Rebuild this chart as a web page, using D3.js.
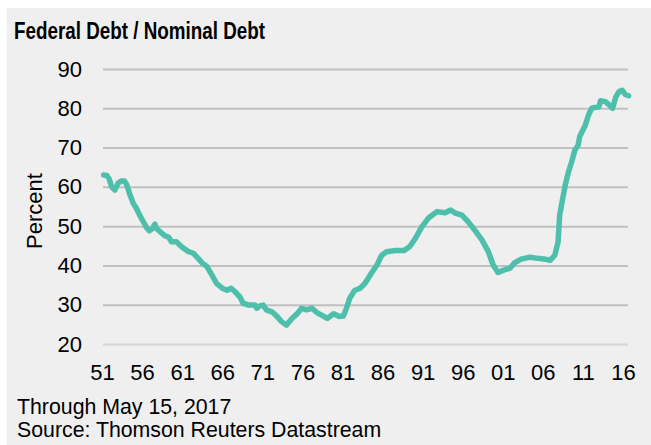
<!DOCTYPE html>
<html>
<head>
<meta charset="utf-8">
<script src="https://cdn.jsdelivr.net/npm/d3@7"></script>
<style>
  html, body { margin: 0; padding: 0; background: #ffffff; }
  svg { display: block; font-family: "Liberation Sans", Arial, sans-serif; }
</style>
</head>
<body>
<svg id="chart" width="651" height="445"></svg>
<script>
// ---- Data ----
const titleText = "Federal Debt / Nominal Debt";
const yAxisLabel = "Percent";
const footnotes = ["Through May 15, 2017", "Source: Thomson Reuters Datastream"];

const yTicks = [20, 30, 40, 50, 60, 70, 80, 90];
const xTicks = [1951, 1956, 1961, 1966, 1971, 1976, 1981, 1986, 1991, 1996, 2001, 2006, 2011, 2016];

const years = [
  1951.2, 1951.6, 1951.9, 1952.2, 1952.6, 1953.0, 1953.4, 1953.8, 1954.1, 1954.5,
  1954.9, 1955.3, 1955.7, 1956.1, 1956.5, 1956.9, 1957.3, 1957.6, 1957.8, 1958.4,
  1958.9, 1959.3, 1959.7, 1960.3, 1960.9, 1961.8, 1962.4, 1963.0, 1963.6, 1964.1,
  1964.7, 1965.3, 1966.0, 1966.6, 1967.1, 1967.6, 1968.2, 1968.6, 1969.3, 1970.1,
  1970.3, 1970.7, 1971.1, 1971.5, 1972.2, 1972.8, 1973.4, 1974.0, 1974.7, 1975.3,
  1975.9, 1976.5, 1977.2, 1977.8, 1978.5, 1979.1, 1979.9, 1980.6, 1981.1, 1981.5,
  1981.9, 1982.5, 1983.2, 1983.8, 1984.6, 1985.3, 1985.9, 1986.5, 1987.6, 1988.7,
  1989.4, 1990.1, 1990.9, 1991.7, 1992.8, 1993.8, 1994.5, 1995.0, 1995.9, 1996.7,
  1997.5, 1998.4, 1999.2, 1999.8, 2000.4, 2001.1, 2001.9, 2002.5, 2003.3, 2004.4,
  2005.4, 2006.3, 2006.9, 2007.5, 2007.9, 2008.1, 2008.4, 2008.8, 2009.2, 2009.6,
  2010.0, 2010.4, 2010.6, 2011.3, 2011.7, 2012.1, 2012.5, 2013.0, 2013.2, 2013.8,
  2014.2, 2014.7, 2015.1, 2015.5, 2015.9, 2016.3, 2016.7
];
const debtShare = [
  63.0, 62.9, 62.0, 60.0, 59.2, 60.9, 61.5, 61.5, 60.5, 57.9,
  55.8, 54.5, 52.8, 51.3, 49.8, 48.8, 49.4, 50.5, 49.4, 48.3,
  47.5, 47.2, 46.0, 46.0, 44.8, 43.5, 43.1, 41.8, 40.4, 39.7,
  37.6, 35.4, 34.2, 33.7, 34.2, 33.3, 32.0, 30.4, 29.9, 29.9,
  29.1, 29.7, 29.9, 28.7, 28.2, 27.1, 25.7, 24.8, 26.5, 27.6,
  29.1, 28.7, 29.1, 28.0, 27.2, 26.5, 27.7, 27.0, 27.1, 29.1,
  31.6, 33.6, 34.2, 35.4, 38.0, 40.1, 42.6, 43.5, 43.8, 43.8,
  44.8, 46.9, 49.8, 52.0, 53.7, 53.4, 54.1, 53.4, 52.8, 51.1,
  49.0, 46.5, 43.5, 40.1, 38.2, 38.8, 39.3, 40.7, 41.6, 42.1,
  41.8, 41.6, 41.3, 42.6, 46.0, 52.8, 56.2, 60.5, 63.8, 66.4,
  69.4, 70.6, 72.8, 75.7, 78.3, 80.0, 80.2, 80.4, 81.9, 81.7,
  81.0, 80.0, 82.9, 84.2, 84.6, 83.5, 83.2
];

// ---- Drawing ----
const svg = d3.select("#chart");
const W = 651, H = 445;

svg.append("rect")
  .attr("x", 7).attr("y", 8)
  .attr("width", W - 7).attr("height", H - 8)
  .attr("fill", "#efefef");

const x = d3.scaleLinear().domain([1951, 2016]).range([102, 623]);
const y = d3.scaleLinear().domain([20, 90]).range([344, 69]);
const gridLeft = 103, gridRight = 628;

// Title
svg.append("text")
  .attr("x", 14).attr("y", 39)
  .attr("font-size", 23).attr("font-weight", "bold")
  .attr("fill", "#000")
  .attr("textLength", 251).attr("lengthAdjust", "spacingAndGlyphs")
  .text(titleText);

// Y axis with gridlines
const yAxis = d3.axisLeft(y)
  .tickValues(yTicks)
  .tickSize(-(gridRight - gridLeft))
  .tickPadding(21)
  .tickFormat(d3.format("d"));

const gy = svg.append("g")
  .attr("transform", `translate(${gridLeft},0)`)
  .call(yAxis);
gy.select(".domain").remove();
gy.selectAll(".tick line")
  .attr("stroke", d => d === 20 ? "#d6d6d6" : "#c0c0c0")
  .attr("stroke-width", 2);
gy.selectAll(".tick text")
  .attr("font-size", 22)
  .attr("font-family", "Liberation Sans, Arial, sans-serif")
  .attr("fill", "#000");

// X axis (labels only)
const xAxis = d3.axisBottom(x)
  .tickValues(xTicks)
  .tickSize(0)
  .tickPadding(0)
  .tickFormat(d => String(d % 100).padStart(2, "0"));

const gx = svg.append("g")
  .attr("transform", "translate(0,344)")
  .call(xAxis);
gx.select(".domain").remove();
gx.selectAll(".tick text")
  .attr("font-size", 22)
  .attr("font-family", "Liberation Sans, Arial, sans-serif")
  .attr("fill", "#000")
  .attr("dy", null)
  .attr("y", 36);

// Y axis title
svg.append("text")
  .attr("transform", "translate(42,211) rotate(-90)")
  .attr("text-anchor", "middle")
  .attr("font-size", 22)
  .attr("fill", "#000")
  .text(yAxisLabel);

// Line
const data = years.map((yr, i) => ({ yr, v: debtShare[i] }));
const line = d3.line().x(d => x(d.yr)).y(d => y(d.v)).curve(d3.curveLinear);
svg.append("path")
  .datum(data)
  .attr("d", line)
  .attr("fill", "none")
  .attr("stroke", "#4dbfab")
  .attr("stroke-width", 5.5)
  .attr("stroke-linejoin", "round")
  .attr("stroke-linecap", "round");

// Footnotes
svg.selectAll("text.foot")
  .data(footnotes)
  .enter().append("text")
  .attr("class", "foot")
  .attr("x", 17)
  .attr("y", (d, i) => 414 + i * 23)
  .attr("font-size", 21.3)
  .attr("fill", "#000")
  .text(d => d);
</script>
</body>
</html>
